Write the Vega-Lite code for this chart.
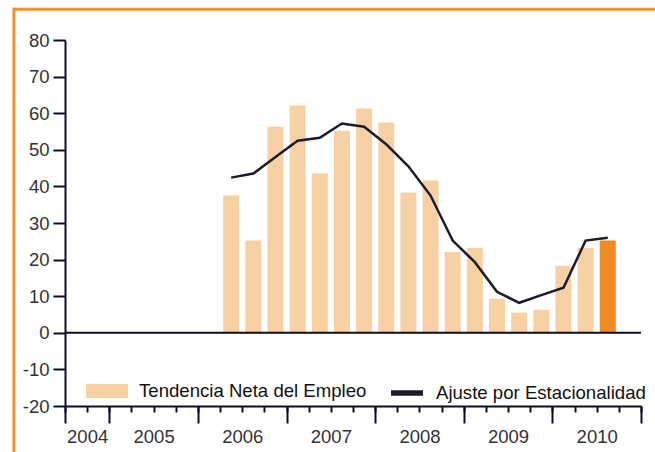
{
  "$schema": "https://vega.github.io/schema/vega-lite/v6.json",
  "width": 576,
  "height": 366,
  "autosize": {"type": "none"},
  "padding": {"left": 65, "top": 40, "right": 14, "bottom": 46},
  "background": "white",
  "config": {
    "view": {"stroke": null},
    "font": "Liberation Sans",
    "axis": {
      "labelFont": "Liberation Sans",
      "labelFontSize": 18.5,
      "labelColor": "#333333",
      "domainColor": "#0d0d26",
      "tickColor": "#0d0d26",
      "domainWidth": 2,
      "tickWidth": 2,
      "grid": false,
      "title": null
    },
    "legend": {"labelFont": "Liberation Sans", "labelFontSize": 18.6, "labelColor": "#111111", "padding": 0, "labelLimit": 400}
  },
  "data": {
    "values": [
      {"trimestre": 2006.375, "tendencia": 37.5, "ajuste": 42.4, "tipo": "Tendencia Neta del Empleo"},
      {"trimestre": 2006.625, "tendencia": 25.2, "ajuste": 43.5, "tipo": "Tendencia Neta del Empleo"},
      {"trimestre": 2006.875, "tendencia": 56.3, "ajuste": 48.0, "tipo": "Tendencia Neta del Empleo"},
      {"trimestre": 2007.125, "tendencia": 62.1, "ajuste": 52.5, "tipo": "Tendencia Neta del Empleo"},
      {"trimestre": 2007.375, "tendencia": 43.5, "ajuste": 53.3, "tipo": "Tendencia Neta del Empleo"},
      {"trimestre": 2007.625, "tendencia": 55.2, "ajuste": 57.2, "tipo": "Tendencia Neta del Empleo"},
      {"trimestre": 2007.875, "tendencia": 61.3, "ajuste": 56.3, "tipo": "Tendencia Neta del Empleo"},
      {"trimestre": 2008.125, "tendencia": 57.4, "ajuste": 51.5, "tipo": "Tendencia Neta del Empleo"},
      {"trimestre": 2008.375, "tendencia": 38.3, "ajuste": 45.5, "tipo": "Tendencia Neta del Empleo"},
      {"trimestre": 2008.625, "tendencia": 41.6, "ajuste": 37.5, "tipo": "Tendencia Neta del Empleo"},
      {"trimestre": 2008.875, "tendencia": 22.1, "ajuste": 25.2, "tipo": "Tendencia Neta del Empleo"},
      {"trimestre": 2009.125, "tendencia": 23.2, "ajuste": 19.3, "tipo": "Tendencia Neta del Empleo"},
      {"trimestre": 2009.375, "tendencia": 9.3, "ajuste": 11.2, "tipo": "Tendencia Neta del Empleo"},
      {"trimestre": 2009.625, "tendencia": 5.5, "ajuste": 8.2, "tipo": "Tendencia Neta del Empleo"},
      {"trimestre": 2009.875, "tendencia": 6.3, "ajuste": 10.3, "tipo": "Tendencia Neta del Empleo"},
      {"trimestre": 2010.125, "tendencia": 18.3, "ajuste": 12.3, "tipo": "Tendencia Neta del Empleo"},
      {"trimestre": 2010.375, "tendencia": 23.2, "ajuste": 25.2, "tipo": "Tendencia Neta del Empleo"},
      {"trimestre": 2010.625, "tendencia": 25.2, "ajuste": 26.0, "tipo": "Trimestre actual"}
    ]
  },
  "resolve": {"axis": {"x": "independent", "y": "independent"}},
  "layer": [
    {
      "data": {"values": [{}]},
      "mark": {"type": "rule", "color": "#F0922E", "strokeWidth": 3},
      "encoding": {
        "x": {"datum": 2003.913, "type": "quantitative", "scale": {"domain": [2004.5, 2011], "nice": false, "zero": false, "padding": 0},
          "axis": {"orient": "bottom", "values": [2004.5, 2005, 2006, 2007, 2008, 2009, 2010, 2011], "tickSize": 17, "labels": false, "domain": false}},
        "x2": {"datum": 2011.4},
        "y": {"datum": 88.4, "type": "quantitative", "scale": {"domain": [-20, 80], "nice": false, "padding": 0}, "axis": null}
      }
    },
    {
      "data": {"values": [{}]},
      "mark": {"type": "rule", "color": "#F0922E", "strokeWidth": 3},
      "encoding": {
        "x": {"datum": 2003.924, "type": "quantitative", "scale": {"domain": [2004.5, 2011], "nice": false, "zero": false, "padding": 0}, "axis": null},
        "y": {"datum": 88.8, "type": "quantitative", "scale": {"domain": [-20, 80], "nice": false, "padding": 0}, "axis": null},
        "y2": {"datum": -36}
      }
    },
    {
      "mark": {"type": "bar", "width": 16},
      "encoding": {
        "x": {"field": "trimestre", "type": "quantitative", "scale": {"domain": [2004.5, 2011], "nice": false, "zero": false, "padding": 0},
          "axis": {"orient": "bottom", "values": [2004.5, 2004.75, 2005, 2005.25, 2005.5, 2005.75, 2006, 2006.25, 2006.5, 2006.75, 2007, 2007.25, 2007.5, 2007.75, 2008, 2008.25, 2008.5, 2008.75, 2009, 2009.25, 2009.5, 2009.75, 2010, 2010.25, 2010.5, 2010.75, 2011], "tickSize": 6, "labels": false, "domain": true}},
        "y": {"field": "tendencia", "type": "quantitative", "scale": {"domain": [-20, 80], "nice": false, "padding": 0},
          "axis": {"orient": "left", "values": [-20, -10, 0, 10, 20, 30, 40, 50, 60, 70, 80], "labelExpr": "'' + datum.value", "tickSize": 12, "labelPadding": 4, "domain": true}},
        "color": {"field": "tipo", "type": "nominal",
          "scale": {"domain": ["Tendencia Neta del Empleo", "Trimestre actual"], "range": ["#F7D0A4", "#EE8B23"]},
          "legend": {"orient": "none", "legendX": 21, "legendY": 330, "title": null, "values": ["Tendencia Neta del Empleo"],
            "symbolType": "M-1,-0.33H1V0.33H-1Z", "symbolSize": 1764, "symbolStrokeWidth": 0, "symbolOpacity": 1, "labelOffset": 11}}
      }
    },
    {
      "data": {"values": [{}]},
      "mark": {"type": "rule", "color": "#0d0d26", "strokeWidth": 2},
      "encoding": {
        "y": {"datum": 0, "type": "quantitative", "scale": {"domain": [-20, 80], "nice": false, "padding": 0}, "axis": null}
      }
    },
    {
      "mark": {"type": "line", "strokeWidth": 2.5},
      "encoding": {
        "x": {"field": "trimestre", "type": "quantitative", "scale": {"domain": [2004.5, 2011], "nice": false, "zero": false, "padding": 0},
          "axis": {"orient": "bottom", "values": [2004.75, 2005.5, 2006.5, 2007.5, 2008.5, 2009.5, 2010.5], "labelExpr": "floor(datum.value)", "ticks": false, "tickSize": 0, "labelPadding": 21, "domain": false}},
        "y": {"field": "ajuste", "type": "quantitative", "scale": {"domain": [-20, 80], "nice": false, "padding": 0}, "axis": null},
        "stroke": {"datum": "Ajuste por Estacionalidad", "type": "nominal", "scale": {"range": ["#1c1c28"]},
          "legend": {"orient": "none", "legendX": 323, "legendY": 334, "title": null, "symbolType": "stroke", "symbolSize": 1024, "symbolStrokeWidth": 5.5, "labelOffset": 10}}
      }
    }
  ]
}
